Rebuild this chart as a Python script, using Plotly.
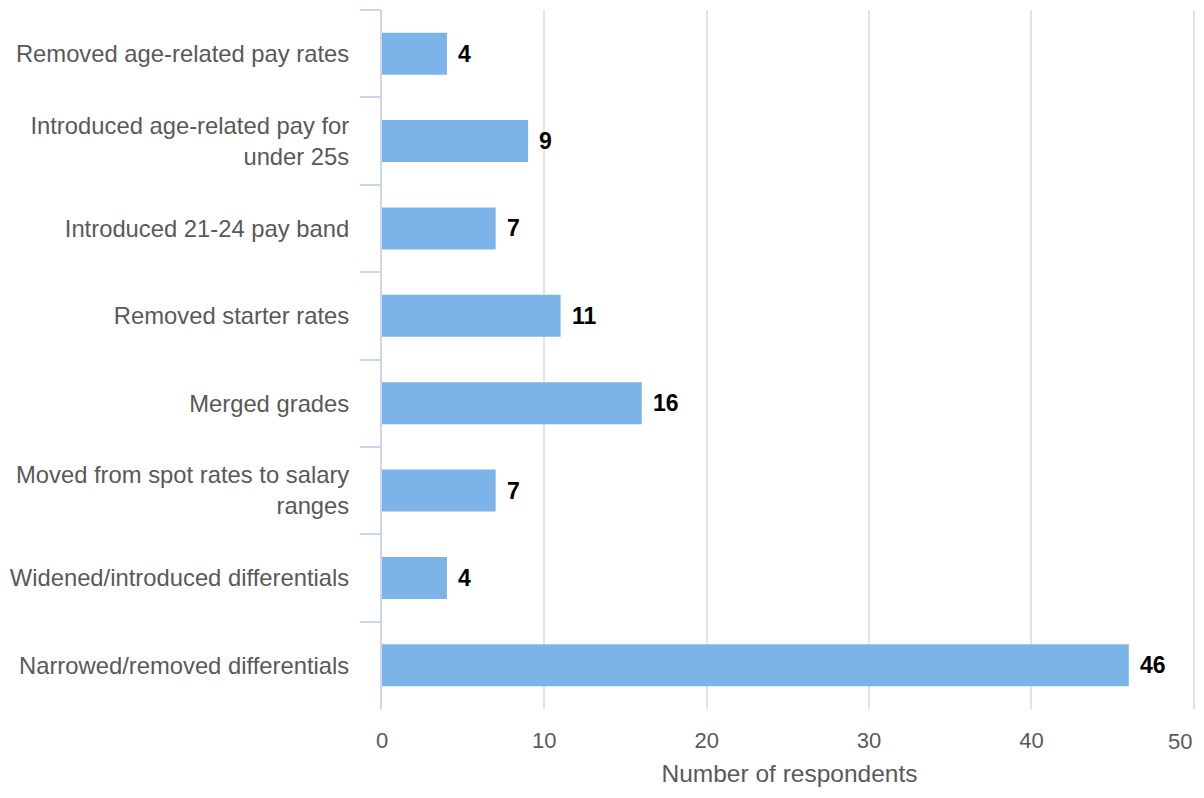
import plotly.graph_objects as go

categories = [
    "Removed age-related pay rates",
    "Introduced age-related pay for<br>under 25s",
    "Introduced 21-24 pay band",
    "Removed starter rates",
    "Merged grades",
    "Moved from spot rates to salary<br>ranges",
    "Widened/introduced differentials",
    "Narrowed/removed differentials",
]
respondents = [4, 9, 7, 11, 16, 7, 4, 46]

x_ticks = [0, 10, 20, 30, 40, 50]
x_tick_text = ["0", "10", "20", "30", "40", "50"]

FONT = "Liberation Sans, Arial, sans-serif"
TICK_COLOR = "#595959"

fig = go.Figure(
    go.Bar(
        y=categories,
        x=respondents,
        orientation="h",
        width=0.48,
        marker=dict(color="#7CB4EA", line=dict(width=0)),
        hoverinfo="x+y",
    )
)

# value labels just past the end of each bar
for cat, val in zip(categories, respondents):
    fig.add_annotation(
        x=val,
        y=cat,
        text=f"<b>{val}</b>",
        showarrow=False,
        xanchor="left",
        xshift=9,
        font=dict(family=FONT, size=23, color="#000000"),
    )

# the last x tick label is right-aligned to its gridline so it stays on the page
fig.add_annotation(
    x=x_ticks[-1],
    xref="x",
    y=0,
    yref="paper",
    text=x_tick_text[-1],
    showarrow=False,
    xanchor="right",
    yanchor="middle",
    yshift=-32,
    font=dict(family=FONT, size=22, color=TICK_COLOR),
)

fig.update_layout(
    width=1204,
    height=798,
    margin=dict(l=382, r=7, t=10, b=89),
    plot_bgcolor="white",
    paper_bgcolor="white",
    showlegend=False,
    font=dict(family=FONT, size=23, color=TICK_COLOR),
)

fig.update_xaxes(
    range=[0, 50.2],
    tickvals=x_ticks,
    ticktext=x_tick_text[:-1] + [""],
    automargin=False,
    showgrid=True,
    gridcolor="#E3E3E3",
    gridwidth=1.5,
    zeroline=False,
    showline=False,
    ticks="outside",
    ticklen=12,
    tickcolor="rgba(0,0,0,0)",
    tickfont=dict(size=22, color=TICK_COLOR),
    title=dict(text="Number of respondents", font=dict(size=24.5, color=TICK_COLOR), standoff=12),
)

fig.update_yaxes(
    categoryorder="array",
    categoryarray=categories,
    autorange="reversed",
    automargin=False,
    showgrid=False,
    showline=True,
    linecolor="#CDD6EC",
    linewidth=2,
    ticks="outside",
    tickson="boundaries",
    ticklen=20,
    tickwidth=2,
    tickcolor="#CDD6EC",
    tickfont=dict(size=23.8, color=TICK_COLOR),
    ticklabelstandoff=26,
)

fig.write_html("out.html")
